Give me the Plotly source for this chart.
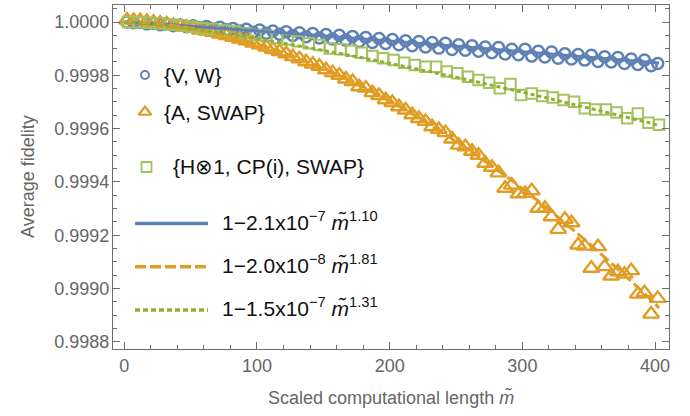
import plotly.graph_objects as go

# ---------------- data ----------------
m_vw = [2, 7, 12, 17, 22, 27, 32, 37, 42, 47, 52, 57, 62, 67, 72, 77, 82, 87, 92, 97,
        102, 107, 112, 117, 122, 127, 132, 137, 142, 147, 152, 157, 162, 167, 172, 177, 182, 187, 192, 197,
        202, 207, 212, 217, 222, 227, 232, 237, 242, 247, 252, 257, 262, 267, 272, 277, 282, 287, 292, 297,
        302, 307, 312, 317, 322, 327, 332, 337, 342, 347, 352, 357, 362, 367, 372, 377, 382, 387, 392, 397, 402]
fid_vw = [1.000000, 0.999997, 0.999998, 0.999993, 0.999995, 0.999990, 0.999992, 0.999986, 0.999989, 0.999982,
          0.999986, 0.999978, 0.999983, 0.999974, 0.999980, 0.999971, 0.999976, 0.999966, 0.999973, 0.999962,
          0.999970, 0.999958, 0.999966, 0.999954, 0.999963, 0.999949, 0.999960, 0.999945, 0.999957, 0.999940,
          0.999953, 0.999936, 0.999950, 0.999932, 0.999946, 0.999927, 0.999942, 0.999923, 0.999938, 0.999919,
          0.999934, 0.999915, 0.999930, 0.999911, 0.999927, 0.999906, 0.999923, 0.999902, 0.999920, 0.999897,
          0.999915, 0.999894, 0.999911, 0.999890, 0.999906, 0.999885, 0.999904, 0.999880, 0.999898, 0.999877,
          0.999898, 0.999872, 0.999890, 0.999869, 0.999887, 0.999864, 0.999881, 0.999861, 0.999878, 0.999857,
          0.999875, 0.999852, 0.999870, 0.999850, 0.999867, 0.999844, 0.999861, 0.999841, 0.999857, 0.999836,
          0.999844]

m_aswap = m_vw
fid_aswap = [1.000008, 1.000006, 1.000005, 1.000002, 0.999999, 0.999996, 0.999993, 0.999987, 0.999984, 0.999980,
             0.999976, 0.999970, 0.999966, 0.999961, 0.999955, 0.999949, 0.999943, 0.999936, 0.999929, 0.999921,
             0.999914, 0.999906, 0.999897, 0.999889, 0.999881, 0.999870, 0.999862, 0.999851, 0.999842, 0.999834,
             0.999821, 0.999810, 0.999800, 0.999786, 0.999777, 0.999757, 0.999752, 0.999735, 0.999724, 0.999708,
             0.999698, 0.999682, 0.999670, 0.999652, 0.999638, 0.999627, 0.999607, 0.999597, 0.999585, 0.999561,
             0.999538, 0.999532, 0.999515, 0.999500, 0.999470, 0.999455, 0.999434, 0.999376, 0.999388, 0.999355,
             0.999357, 0.999367, 0.999301, 0.999301, 0.999269, 0.999222, 0.999260, 0.999247, 0.999163, 0.999159,
             0.999076, 0.999157, 0.999082, 0.999047, 0.999063, 0.999054, 0.999067, 0.998979, 0.998984, 0.998904,
             0.998963]

m_hcp = [3, 11, 19, 27, 35, 43, 51, 59, 67, 75, 83, 91, 99, 107, 115, 123, 131, 139, 147, 155,
         163, 171, 179, 187, 195, 203, 211, 219, 227, 235, 243, 251, 259, 267, 275, 283, 291, 299, 307, 315,
         323, 331, 339, 347, 355, 363, 371, 379, 387, 395, 403]
fid_hcp = [1.000000, 0.999999, 0.999997, 0.999994, 0.999990, 0.999987, 0.999982, 0.999977, 0.999974, 0.999968,
           0.999964, 0.999958, 0.999951, 0.999948, 0.999940, 0.999934, 0.999928, 0.999920, 0.999914, 0.999901,
           0.999898, 0.999892, 0.999885, 0.999872, 0.999864, 0.999857, 0.999847, 0.999839, 0.999832, 0.999832,
           0.999814, 0.999808, 0.999795, 0.999782, 0.999772, 0.999751, 0.999767, 0.999726, 0.999732, 0.999722,
           0.999717, 0.999707, 0.999701, 0.999676, 0.999672, 0.999672, 0.999660, 0.999639, 0.999657, 0.999622,
           0.999614]

# fitted curves
m_fit = [0, 25, 50, 100, 150, 200, 250, 300, 350, 400, 403]
fit_vw = [1.0, 0.9999928, 0.9999845, 0.9999667, 0.999948, 0.9999287, 0.9999089, 0.9998886, 0.999868, 0.9998471, 0.9998458]
fit_aswap = [1.0, 0.9999934, 0.999977, 0.999917, 0.999824, 0.999703, 0.999552, 0.999375, 0.99917, 0.998943, 0.998927]
fit_hcp = [1.0, 0.9999898, 0.9999748, 0.9999375, 0.9998936, 0.999845, 0.9997924, 0.9997365, 0.999677, 0.999616, 0.9996115]

series_names = ["{V, W}", "{A, SWAP}", "{H⊗1, CP(i), SWAP}"]
fit_labels = ["1−2.1x10<sup>−7</sup> <i>m̃</i><sup>1.10</sup>",
              "1−2.0x10<sup>−8</sup> <i>m̃</i><sup>1.81</sup>",
              "1−1.5x10<sup>−7</sup> <i>m̃</i><sup>1.31</sup>"]
y_ticks = [0.9988, 0.9990, 0.9992, 0.9994, 0.9996, 0.9998, 1.0000]
x_ticks = [0, 100, 200, 300, 400]

# ---------------- style ----------------
BLUE = "#5E81B5"
ORANGE = "#E19C24"
GREEN = "#8FB032"
GREEN_M = "#A3C35E"
FRAME = "#6e6e6e"
TXT = "#666666"
FONT = "Liberation Sans, Arial, sans-serif"

W, H = 690, 416
L, R, T, B = 113, 21, 5, 67
PW, PH = W - L - R, H - T - B


def px(x):
    return (x - L) / PW


def py(y):
    return (H - B - y) / PH


fig = go.Figure()

fig.add_trace(go.Scatter(x=m_vw, y=fid_vw, mode="markers", name=series_names[0],
                         marker=dict(symbol="circle-open", size=11, color=BLUE, line=dict(width=2.5)),
                         showlegend=False))
fig.add_trace(go.Scatter(x=m_aswap, y=fid_aswap, mode="markers", name=series_names[1],
                         marker=dict(symbol="triangle-up-open", size=14, color=ORANGE, line=dict(width=2.4)),
                         showlegend=False))
fig.add_trace(go.Scatter(x=m_hcp, y=fid_hcp, mode="markers", name=series_names[2],
                         marker=dict(symbol="square-open", size=10.5, color=GREEN_M, line=dict(width=2)),
                         showlegend=False))

fig.add_trace(go.Scatter(x=m_fit, y=fit_vw, mode="lines", line=dict(color=BLUE, width=3, shape="spline"),
                         showlegend=False))
fig.add_trace(go.Scatter(x=m_fit, y=fit_aswap, mode="lines",
                         line=dict(color=ORANGE, width=3, shape="spline", dash="11px,4px"), showlegend=False))
fig.add_trace(go.Scatter(x=m_fit, y=fit_hcp, mode="lines",
                         line=dict(color=GREEN, width=3, shape="spline", dash="4px,3px"), showlegend=False))

# ---------------- hand-made legend (overlay axis in plot-fraction units) ----------------
leg_marker_pos = [(145, 75), (145, 112), (146.5, 167)]
leg_symbols = [("circle-open", 8, BLUE, 2.0), ("triangle-up-open", 11, ORANGE, 2.2), ("square-open", 10, GREEN_M, 1.8)]
for (x0, y0), (sym, sz, col, lw) in zip(leg_marker_pos, leg_symbols):
    fig.add_trace(go.Scatter(x=[px(x0)], y=[py(y0)], xaxis="x2", yaxis="y2", mode="markers",
                             marker=dict(symbol=sym, size=sz, color=col, line=dict(width=lw)),
                             showlegend=False, hoverinfo="skip"))
leg_line_y = [223.5, 266.7, 310]
leg_line_style = [(BLUE, "solid"), (ORANGE, "11px,4px"), (GREEN, "5px,3px")]
for yy, (col, dash) in zip(leg_line_y, leg_line_style):
    fig.add_trace(go.Scatter(x=[px(135), px(208)], y=[py(yy), py(yy)], xaxis="x2", yaxis="y2", mode="lines",
                             line=dict(color=col, width=3.5, dash=dash), showlegend=False, hoverinfo="skip"))

leg_text_pos = [(162, 75), (162, 112), (171, 167)]
for (x0, y0), t in zip(leg_text_pos, series_names):
    fig.add_annotation(x=px(x0), y=py(y0), xref="paper", yref="paper", text=t, showarrow=False,
                       xanchor="left", yanchor="middle", font=dict(family=FONT, size=21, color="#111111"))
for yy, t in zip([221, 264, 307], fit_labels):
    fig.add_annotation(x=px(220), y=py(yy), xref="paper", yref="paper", text=t, showarrow=False,
                       xanchor="left", yanchor="middle", font=dict(family=FONT, size=21, color="#111111"))

# axis titles
fig.add_annotation(x=0.5, y=py(397), xref="paper", yref="paper", text="Scaled computational length <i>m̃</i>",
                   showarrow=False, xanchor="center", yanchor="middle", font=dict(family=FONT, size=18, color=TXT))
fig.add_annotation(x=px(28), y=0.5, xref="paper", yref="paper", text="Average fidelity", textangle=-90,
                   showarrow=False, xanchor="center", yanchor="middle", font=dict(family=FONT, size=18, color=TXT))

axis_common = dict(showline=True, linecolor=FRAME, linewidth=1.2, mirror="allticks", ticks="inside",
                   ticklen=7, tickwidth=1.2, tickcolor=FRAME, showgrid=False, zeroline=False,
                   automargin=False, tickfont=dict(family=FONT, size=18, color=TXT))

fig.update_layout(
    width=W, height=H, margin=dict(l=L, r=R, t=T, b=B, autoexpand=False),
    paper_bgcolor="white", plot_bgcolor="white",
    xaxis=dict(range=[-8.5, 410.5], tickvals=x_ticks, **axis_common,
               minor=dict(dtick=20, tick0=0, ticks="inside", ticklen=4, tickcolor=FRAME, tickwidth=1.2)),
    yaxis=dict(range=[0.998773, 1.0000638], tickvals=y_ticks, tickformat=".4f", ticklabelstandoff=-1,
               **axis_common,
               minor=dict(dtick=0.00005, tick0=0.9988, ticks="inside", ticklen=4, tickcolor=FRAME, tickwidth=1.2)),
    xaxis2=dict(overlaying="x", range=[0, 1], visible=False, automargin=False),
    yaxis2=dict(overlaying="y", range=[0, 1], visible=False, automargin=False),
    showlegend=False,
)

fig.write_html("out.html", config={"displayModeBar": False},
               post_script="document.body.style.margin='0';document.body.style.padding='0';")
